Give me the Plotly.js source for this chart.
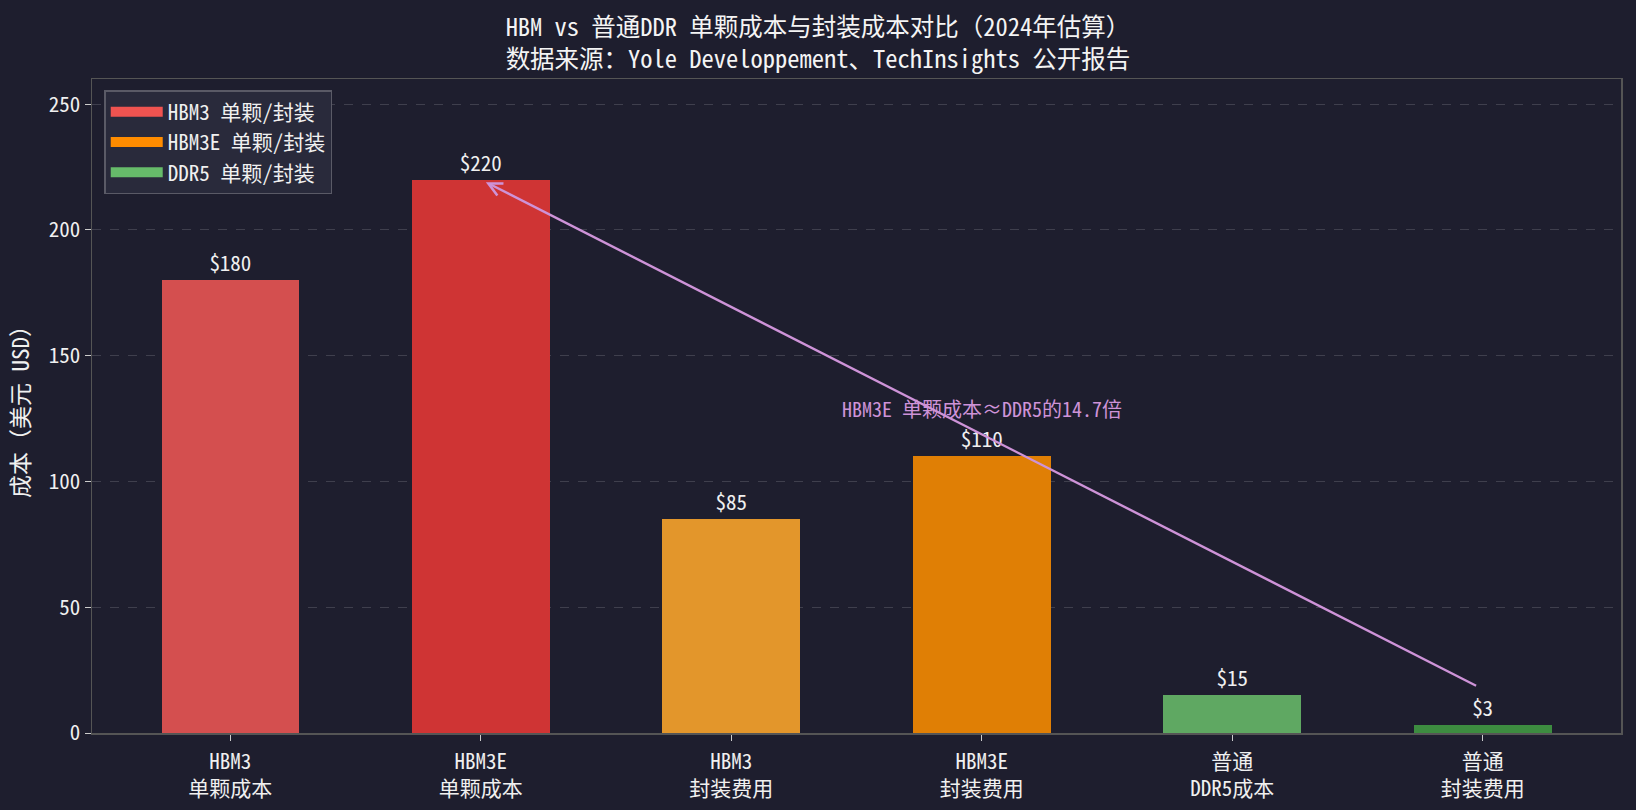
<!DOCTYPE html>
<html>
<head>
<meta charset="utf-8">
<script src="https://cdn.plot.ly/plotly-3.0.1.min.js"></script>
<style>
  html, body { margin: 0; padding: 0; background: #1e1e2e; }
  #chart { width: 1636px; height: 810px; }
</style>
</head>
<body>
<div id="chart"></div>
<script>
// values
const categories = ["HBM3<br>单颗成本", "HBM3E<br>单颗成本", "HBM3<br>封装费用", "HBM3E<br>封装费用", "普通<br>DDR5成本", "普通<br>封装费用"];
const costs = [180, 220, 85, 110, 15, 3];
const barColors = ["#d44f4f", "#cf3434", "#e3962b", "#e07f05", "#5fa862", "#3d8c40"];
const legendNames = ["HBM3 单颗/封装", "HBM3E 单颗/封装", "DDR5 单颗/封装"];
const legendColors = ["#ef5350", "#ff8c00", "#66bb6a"];
const ratioText = "HBM3E 单颗成本≈DDR5的14.7倍";

const FONT = "'Noto Sans Mono CJK SC', 'DejaVu Sans Mono', 'Noto Sans CJK SC', monospace";
const xIdx = categories.map((_, i) => i);

const traces = [{
  type: "bar",
  x: xIdx,
  y: costs,
  width: 0.55,
  marker: { color: barColors, line: { width: 0 } },
  text: costs.map(v => "$" + v),
  textposition: "outside",
  textfont: { color: "#f0f0f0", size: 21, family: FONT },
  cliponaxis: false,
  showlegend: false,
  hoverinfo: "skip"
}];

// legend-only entries, drawn as thick line patches
legendNames.forEach((name, i) => {
  traces.push({
    type: "scatter",
    mode: "lines",
    x: [null],
    y: [null],
    name: name,
    line: { color: legendColors[i], width: 16 },
    showlegend: true
  });
});

const layout = {
  width: 1636,
  height: 810,
  paper_bgcolor: "#1e1e2e",
  plot_bgcolor: "#1e1e2e",
  font: { family: FONT, color: "#e8e8e8", size: 21 },
  margin: { l: 92, r: 15, t: 79, b: 77 },
  title: {
    text: "HBM vs 普通DDR 单颗成本与封装成本对比（2024年估算）<br>数据来源：Yole Developpement、TechInsights 公开报告",
    font: { size: 24.5, color: "#f4f4f4", family: FONT },
    x: 0.5,
    xanchor: "center",
    y: 0.955,
    yanchor: "middle"
  },
  bargap: 0,
  xaxis: {
    range: [-0.5525, 5.5525],
    tickmode: "array",
    tickvals: xIdx,
    ticktext: categories,
    ticks: "outside",
    ticklen: 6,
    tickcolor: "#cccccc",
    tickfont: { size: 21, color: "#f0f0f0" },
    ticklabelstandoff: 3,
    showgrid: false,
    zeroline: false,
    showline: true,
    linecolor: "#555555",
    linewidth: 1.5,
    mirror: true
  },
  yaxis: {
    range: [0, 260],
    dtick: 50,
    ticks: "outside",
    ticklen: 6,
    tickcolor: "#cccccc",
    tickfont: { size: 21, color: "#f0f0f0" },
    showgrid: true,
    gridcolor: "rgba(255,255,255,0.15)",
    griddash: "dash",
    gridwidth: 1,
    zeroline: false,
    showline: true,
    linecolor: "#555555",
    linewidth: 1.5,
    mirror: true,
    title: { text: "成本（美元 USD）", font: { size: 23, color: "#f0f0f0" }, standoff: 12 }
  },
  legend: {
    x: 0.008,
    y: 0.983,
    xanchor: "left",
    yanchor: "top",
    bgcolor: "#292a3b",
    bordercolor: "#5a5a66",
    borderwidth: 1.5,
    font: { size: 21, color: "#f0f0f0" },
    itemwidth: 52,
    tracegroupgap: 4
  },
  annotations: [
    {
      x: 1.02, y: 219, xref: "x", yref: "y",
      ax: 4.98, ay: 18.5, axref: "x", ayref: "y",
      text: "",
      showarrow: true,
      arrowhead: 5,
      arrowsize: 1.1,
      arrowwidth: 2.4,
      arrowcolor: "#ce93d8"
    },
    {
      x: 3, y: 129, xref: "x", yref: "y",
      text: ratioText,
      showarrow: false,
      font: { size: 20, color: "#ce93d8" }
    }
  ]
};

Plotly.newPlot("chart", traces, layout, { staticPlot: true, displayModeBar: false });
</script>
</body>
</html>
